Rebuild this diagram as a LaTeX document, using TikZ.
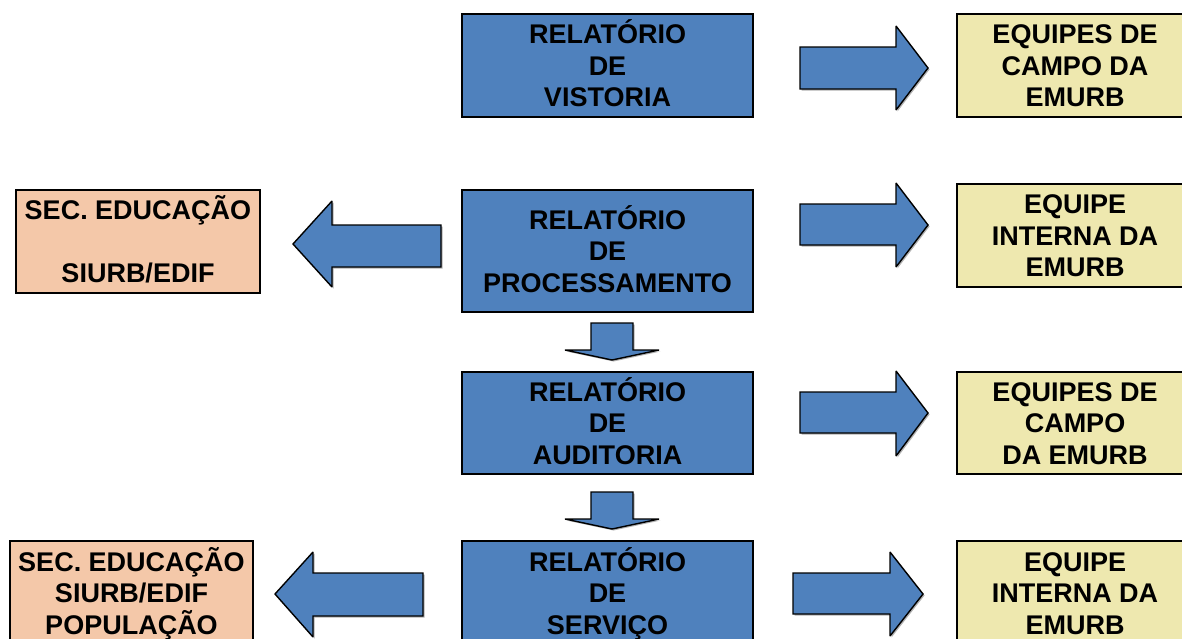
\documentclass[tikz,border=0pt]{standalone}
\usepackage{fontspec}
\setmainfont{Liberation Sans}
\definecolor{boxblue}{HTML}{4F81BD}
\definecolor{boxyellow}{HTML}{EEE8AF}
\definecolor{boxorange}{HTML}{F4C8A9}
\newcommand\sk{\rule[-6.1pt]{0pt}{31.5pt}}
\newcommand\blk[1]{\fill[black!30,shift={(1.5,1.5)}] #1; \filldraw[arr] #1;}
\begin{document}
\begin{tikzpicture}[x=1pt,y=-1pt,
  box/.style={draw=black,line width=1.6pt,inner sep=0pt,align=center,
    font=\fontsize{27}{31.5}\selectfont\bfseries},
  bluebox/.style={box,fill=boxblue,minimum width=291pt},
  yellowbox/.style={box,fill=boxyellow,minimum width=236pt},
  orangebox/.style={box,fill=boxorange},
  arr/.style={fill=boxblue,draw=black,line width=1.4pt,line join=miter,miter limit=1.5}]
\useasboundingbox (0,0) rectangle (1182,638);
\clip (0,0) rectangle (1182,638);
\fill[white] (0,0) rectangle (1182,638);
% blue column
\node[bluebox,minimum height=103pt] (b1) at (607.5,65.5) {\sk RELATÓRIO\\\sk DE\\\sk VISTORIA};
\node[bluebox,minimum height=122pt] (b2) at (607.5,251) {\sk RELATÓRIO\\\sk DE\\\sk PROCESSAMENTO};
\node[bluebox,minimum height=102pt] (b3) at (607.5,423) {\sk RELATÓRIO\\\sk DE\\\sk AUDITORIA};
\node[bluebox,minimum height=104pt] (b4) at (607.5,593) {\sk RELATÓRIO\\\sk DE\\\sk SERVIÇO};
% yellow column
\node[yellowbox,minimum height=103pt] (y1) at (1075,65.5) {\sk EQUIPES DE\\\sk CAMPO DA\\\sk EMURB};
\node[yellowbox,minimum height=103pt] (y2) at (1075,235.5) {\sk EQUIPE\\\sk INTERNA DA\\\sk EMURB};
\node[yellowbox,minimum height=102pt] (y3) at (1075,423) {\sk EQUIPES DE\\\sk CAMPO\\\sk DA EMURB};
\node[yellowbox,minimum height=104pt] (y4) at (1075,593) {\sk EQUIPE\\\sk INTERNA DA\\\sk EMURB};
% orange column
\node[orangebox,minimum width=244pt,minimum height=103pt] (o2) at (138,241.5) {\sk SEC. EDUCAÇÃO\\\sk \\\sk SIURB/EDIF};
\node[orangebox,minimum width=243pt,minimum height=104pt] (o4) at (131.5,593) {\sk SEC. EDUCAÇÃO\\\sk SIURB/EDIF\\\sk POPULAÇÃO};
% right block arrows
\blk{(800,47)--(896,47)--(896,26)--(928,68)--(896,110)--(896,89)--(800,89)--cycle}
\blk{(800,204)--(896,204)--(896,183)--(928,225)--(896,267)--(896,245)--(800,245)--cycle}
\blk{(800,392)--(896,392)--(896,371)--(928,413)--(896,456)--(896,433)--(800,433)--cycle}
\blk{(793,573)--(890,573)--(890,552)--(923,594)--(890,636)--(890,614)--(793,614)--cycle}
% left block arrows
\blk{(441,225)--(332,225)--(332,201)--(293,244)--(332,287)--(332,267)--(441,267)--cycle}
\blk{(423,573)--(313,573)--(313,552)--(275,594)--(313,637)--(313,616)--(423,616)--cycle}
% down block arrows
\blk{(591,323)--(633,323)--(633,350)--(659,350)--(612,360)--(565,350)--(591,350)--cycle}
\blk{(591,492)--(633,492)--(633,519)--(659,519)--(612,529)--(565,519)--(591,519)--cycle}
\end{tikzpicture}
\end{document}
